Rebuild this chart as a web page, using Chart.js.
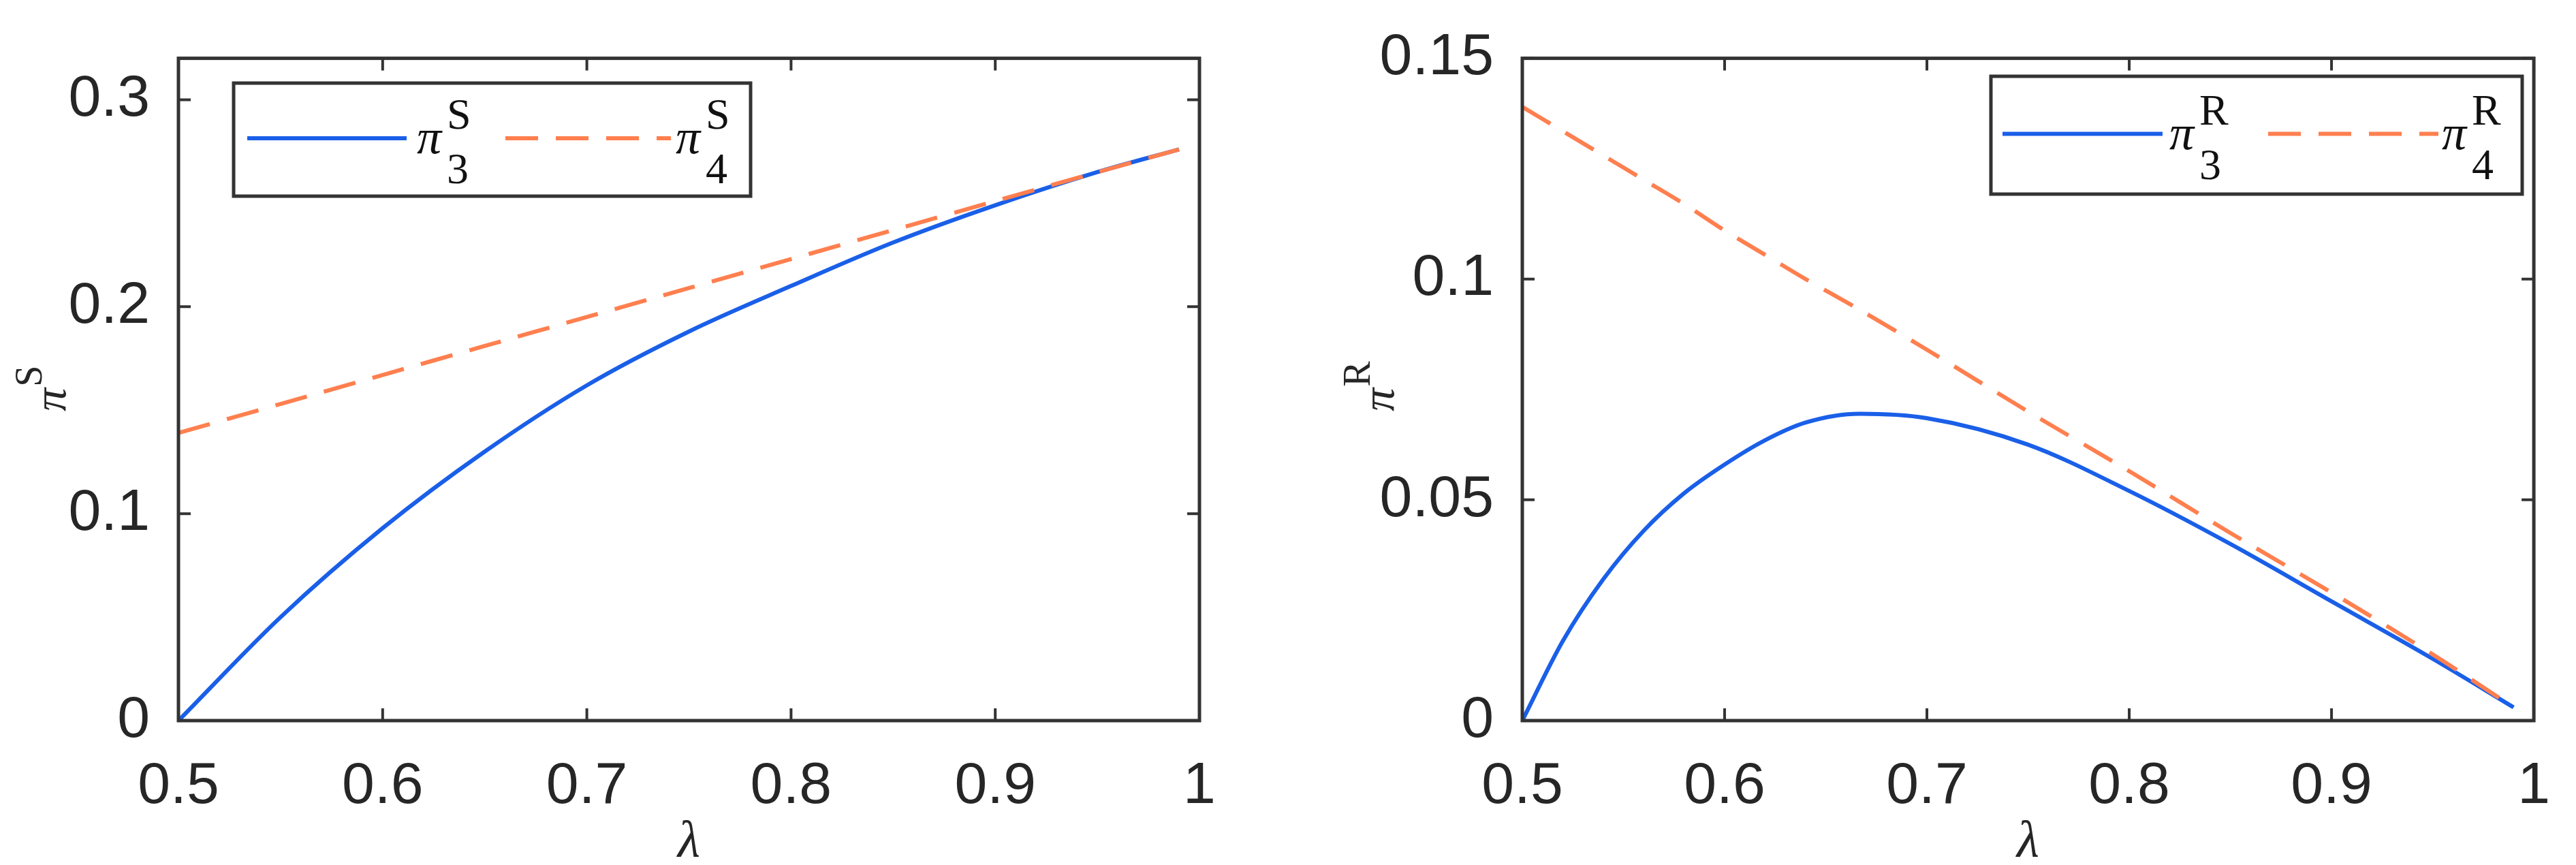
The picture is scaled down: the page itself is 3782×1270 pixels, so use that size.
<!DOCTYPE html>
<html><head><meta charset="utf-8">
<script src="https://cdn.jsdelivr.net/npm/chart.js@4"></script>
<style>body{margin:0;background:#fff;width:3782px;height:1270px;overflow:hidden;position:relative}
.c{position:absolute;top:0;height:1270px}</style></head>
<body>
<div class="c" style="left:0;width:1880px"><canvas id="c1"></canvas></div>
<div class="c" style="left:1890px;width:1892px"><canvas id="c2"></canvas></div>
<script>
const lambdaS = [0.5,0.55,0.6,0.65,0.7,0.75,0.8,0.85,0.9,0.95,0.99];
const pi3S = [0,0.05,0.093,0.13,0.162,0.188,0.21,0.231,0.249,0.265,0.276];
const pi4S = [0.139,0.153,0.167,0.181,0.195,0.209,0.223,0.237,0.251,0.265,0.276];
const lambdaR = [0.5,0.52,0.54,0.56,0.58,0.6,0.62,0.64,0.667,0.7,0.75,0.8,0.85,0.9,0.95,0.99];
const pi3R = [0,0.018,0.032,0.043,0.0515,0.058,0.0635,0.0675,0.0695,0.0685,0.0625,0.052,0.040,0.027,0.014,0.003];
const pi4R = [0.139,0.1335,0.128,0.1225,0.117,0.111,0.1055,0.1,0.093,0.084,0.070,0.0565,0.0425,0.029,0.015,0.003];
const xTicks = [0.5,0.6,0.7,0.8,0.9,1];
const yTicksS = [0,0.1,0.2,0.3];
const yTicksR = [0,0.05,0.1,0.15];

const BLUE='#1a5fe8', ORANGE='#ff7f4f', AX='#333333', TXT='#262626';
const FONT='"Liberation Sans", Arial, sans-serif';

function pts(xs,ys){return xs.map((x,i)=>({x,y:ys[i]}));}

function frame(cfg){return {id:'frame',afterDraw(ch){
  const c=ch.ctx,a=ch.chartArea,x=ch.scales.x,y=ch.scales.y;
  c.save();c.strokeStyle=AX;c.lineWidth=5;
  c.strokeRect(a.left,a.top,a.right-a.left,a.bottom-a.top);
  c.lineWidth=4;
  xTicks.forEach(v=>{const p=x.getPixelForValue(v);
    c.beginPath();c.moveTo(p,a.bottom);c.lineTo(p,a.bottom-18);c.moveTo(p,a.top);c.lineTo(p,a.top+18);c.stroke();});
  cfg.yt.forEach(v=>{const p=y.getPixelForValue(v);
    c.beginPath();c.moveTo(a.left,p);c.lineTo(a.left+18,p);c.moveTo(a.right,p);c.lineTo(a.right-18,p);c.stroke();});
  c.fillStyle=TXT;c.textAlign='center';c.textBaseline='middle';
  c.font='italic 76px "Liberation Serif", serif';
  c.fillText('λ',(a.left+a.right)/2,1238);
  c.save();c.translate(cfg.ylx,(a.top+a.bottom)/2);c.rotate(-Math.PI/2);
  c.font='italic 68px "Liberation Serif", serif';c.textAlign='left';
  c.fillText('π',-32,8);c.font='56px "Liberation Serif", serif';c.fillText(cfg.sup,4,-24);
  c.restore();
  const L=cfg.leg;
  c.fillStyle='#fff';c.fillRect(L.x,L.y,L.w,L.h);
  c.lineWidth=5;c.strokeStyle=AX;c.strokeRect(L.x,L.y,L.w,L.h);
  const ly=L.y+L.h/2-2;
  [[BLUE,[],L.l1,L.t1,'3'],[ORANGE,[48,26],L.l2,L.t2,'4']].forEach(([col,d,l,t,sub])=>{
    c.strokeStyle=col;c.lineWidth=6;c.setLineDash(d);
    c.beginPath();c.moveTo(l[0],ly);c.lineTo(l[1],ly);c.stroke();c.setLineDash([]);
    c.fillStyle='#111';c.textAlign='left';c.textBaseline='alphabetic';
    c.font='italic 72px "Liberation Serif", serif';c.fillText('π',t,ly+22);
    c.font='64px "Liberation Serif", serif';
    c.fillText(cfg.sup,t+44,ly-14);c.fillText(sub,t+44,ly+66);
  });
  c.restore();
}};}

function make(id,d3,d4,ymax,yt,yw,padR,cfg){
  new Chart(document.getElementById(id),{type:'line',
    data:{datasets:[
      {data:d4,borderColor:ORANGE,borderWidth:6,borderDash:[48,26],pointRadius:0,tension:0.3,fill:false},
      {data:d3,borderColor:BLUE,borderWidth:6,pointRadius:0,cubicInterpolationMode:'monotone',fill:false}]},
    options:{responsive:true,maintainAspectRatio:false,animation:false,devicePixelRatio:1,
      layout:{padding:{top:52,right:padR,left:0,bottom:0}},
      plugins:{legend:{display:false},tooltip:{enabled:false}},
      scales:{
        x:{type:'linear',min:0.5,max:1,grid:{display:false},border:{display:false},
          afterFit(s){s.height=212;},
          afterBuildTicks(s){s.ticks=xTicks.map(v=>({value:v}));},
          ticks:{padding:38,color:TXT,font:{family:FONT,size:86},callback:v=>String(+v.toFixed(2))}},
        y:{type:'linear',min:0,max:ymax,grid:{display:false},border:{display:false},
          afterFit(s){s.width=yw;},
          afterBuildTicks(s){s.ticks=yt.map(v=>({value:v}));},
          ticks:{padding:34,color:TXT,font:{family:FONT,size:86},callback:v=>String(+v.toFixed(2))}}}},
    plugins:[frame(Object.assign({yt},cfg))]});
}
make('c1',pts(lambdaS,pi3S),pts(lambdaS,pi4S),0.32,yTicksS,262,119,
  {sup:'S',ylx:70,leg:{x:343,y:122,w:759,h:166,l1:[363,597],t1:612,l2:[742,985],t2:992}});
make('c2',pts(lambdaR,pi3R),pts(lambdaR,pi4R),0.15,yTicksR,345,39,
  {sup:'R',ylx:130,leg:{x:1033,y:112,w:780,h:173,l1:[1050,1285],t1:1295,l2:[1440,1690],t2:1695}});
</script></body></html>
